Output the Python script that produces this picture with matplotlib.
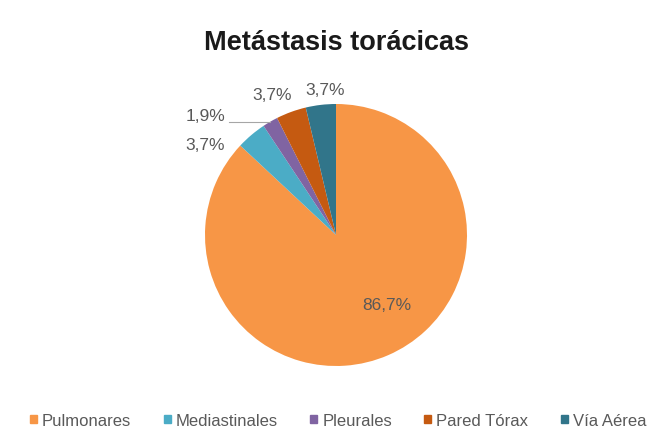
import numpy as np
import matplotlib.pyplot as plt

plt.rcParams['font.family'] = ['Liberation Sans', 'DejaVu Sans']

# Data
categories = ['Pulmonares', 'Mediastinales', 'Pleurales', 'Pared Tórax', 'Vía Aérea']
values = [86.7, 3.7, 1.9, 3.7, 3.7]
labels = ['86,7%', '3,7%', '1,9%', '3,7%', '3,7%']
colors = ['#F79646', '#4BACC6', '#8064A2', '#C55A11', '#31758A']

# label placement (pie units)
label_pos = [(0.39, -0.53), (-1.0, 0.69), (-1.0, 0.91), (-0.49, 1.07), (-0.08, 1.11)]

fig = plt.figure(figsize=(6.59, 4.39), dpi=100)
ax = fig.add_axes([205 / 659, 72 / 439, 262 / 659, 262 / 439])

wedges, _ = ax.pie(values, colors=colors, startangle=90, counterclock=False,
                   wedgeprops=dict(linewidth=0))
ax.set_xlim(-1, 1)
ax.set_ylim(-1, 1)
ax.set_aspect('equal')

for w, lab, (tx, ty) in zip(wedges, labels, label_pos):
    ax.text(tx, ty, lab, ha='center', va='center', fontsize=12.5,
            color='#595959', clip_on=False)

# leader line for the small Pleurales slice
w = wedges[2]
mid = np.deg2rad((w.theta1 + w.theta2) / 2)
ax.plot([-0.82, np.cos(mid)], [0.865, 0.865], color='#A6A6A6', lw=0.8, clip_on=False)

fig.text(0.511, 0.886, 'Metástasis torácicas', ha='center', va='baseline',
         fontsize=19.5, fontweight='bold', color='#1a1a1a')

handles = [plt.Rectangle((0, 0), 1, 1, color=c) for c in colors]
fig.legend(handles, categories, loc='center', bbox_to_anchor=(0.513, 0.04),
           ncol=5, frameon=False, fontsize=12, handlelength=0.42, handleheight=0.42,
           handletextpad=0.3, columnspacing=1.95, labelcolor='#595959')

fig.savefig('out.png', dpi=100)
